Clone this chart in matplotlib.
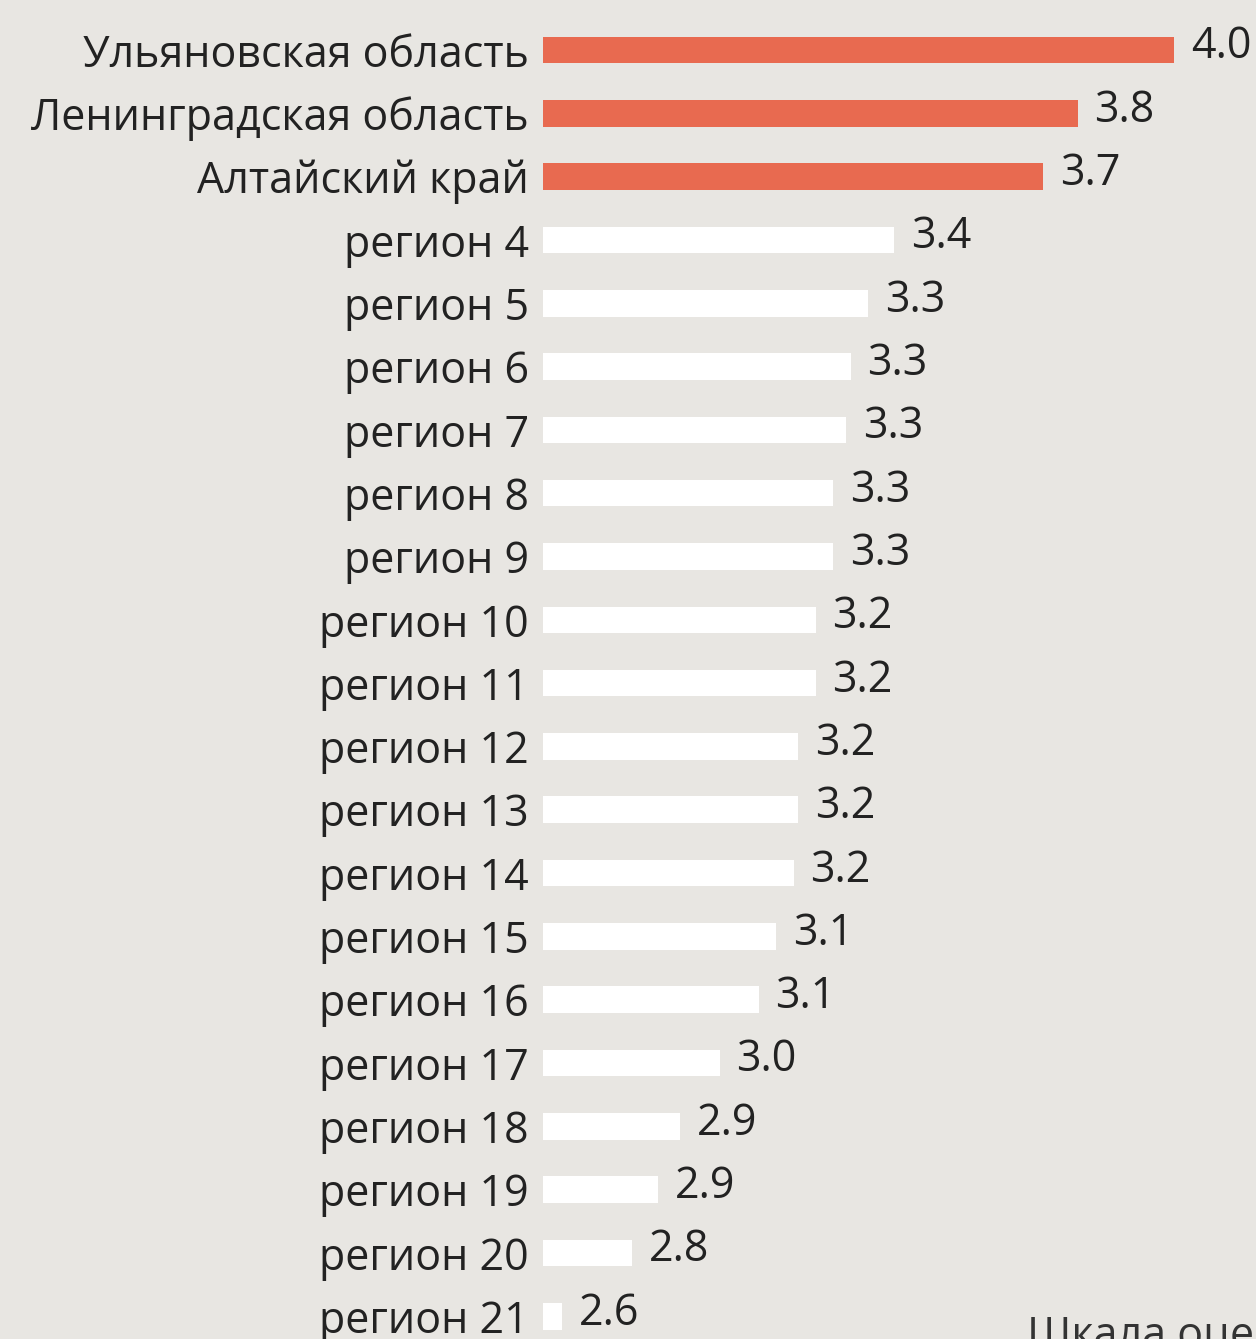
import matplotlib
matplotlib.use("Agg")
import matplotlib.pyplot as plt

plt.rcParams["font.family"] = ["Open Sans", "DejaVu Sans"]

regions = ["Ульяновская область", "Ленинградская область", "Алтайский край",
           "регион 4", "регион 5", "регион 6", "регион 7", "регион 8", "регион 9",
           "регион 10", "регион 11", "регион 12", "регион 13", "регион 14",
           "регион 15", "регион 16", "регион 17", "регион 18", "регион 19",
           "регион 20", "регион 21"]
values = [4.04, 3.82, 3.74, 3.40, 3.34, 3.30, 3.29, 3.26, 3.26, 3.22, 3.22,
          3.18, 3.18, 3.17, 3.13, 3.09, 3.00, 2.91, 2.86, 2.80, 2.64]
highlight = 3

bg = "#e8e6e2"
red = "#e86a50"

W, H = 1256, 1339
fig = plt.figure(figsize=(W / 100, H / 100), dpi=100, facecolor=bg)
ax = fig.add_axes([543 / W, 0, 1 - 543 / W, 1])
ax.set_facecolor(bg)

y = list(range(len(regions)))
colors = [red if i < highlight else "white" for i in y]
ax.barh(y, values, height=0.42, color=colors)

ax.set_xlim(2.596, 2.596 + 713 / 437)
ax.set_ylim(20.36, -0.79)

for i, v in enumerate(values):
    ax.annotate(f"{v:.1f}", (v, i), xytext=(12, 2), textcoords="offset points",
                va="center", ha="left", fontsize=31, color="#222222")

ax.set_yticks(y)
ax.set_yticklabels(regions, fontsize=31, color="#222222")
ax.tick_params(axis="y", length=0, pad=10)
ax.set_xticks([])
for s in ax.spines.values():
    s.set_visible(False)

fig.text(1027 / W, 1 - 1314 / H, "Шкала оценки", ha="left", va="top",
         fontsize=31, color="#333333")

fig.savefig("out.png", dpi=100, facecolor=bg)
